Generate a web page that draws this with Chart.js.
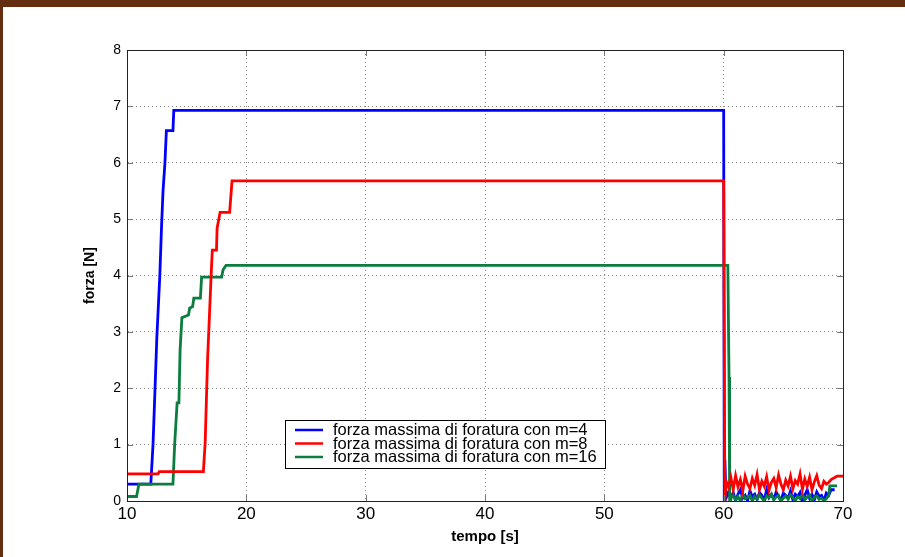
<!DOCTYPE html>
<html lang="it">
<head>
    <meta charset="UTF-8">
    <title>Forza massima di foratura</title>
    <script src="https://cdn.jsdelivr.net/npm/chart.js"></script>
    <style>
        html, body { margin: 0; padding: 0; background: #fff; }
        #wrap { position: relative; width: 905px; height: 557px; overflow: hidden; background: #fff; }
        #forzaChart { position: absolute; left: 0; top: 0; }
        /* brown frame of the slide */
        .bordo-top { position: absolute; left: 0; top: 0; width: 905px; height: 7px; background: #652e11; }
        .bordo-left { position: absolute; left: 0; top: 0; width: 3px; height: 557px; background: #652e11; }
    </style>
</head>
<body>
<div id="wrap">
    <canvas id="forzaChart" width="905" height="557"></canvas>
    <div class="bordo-top"></div>
    <div class="bordo-left"></div>
</div>

<script>
    // series labels
    const etichette = [
        'forza massima di foratura con m=4',
        'forza massima di foratura con m=8',
        'forza massima di foratura con m=16'
    ];

    // rise part of each curve (tempo [s], forza [N])
    const tempoM4 = [10, 11.95, 12.0, 12.18, 12.35, 12.5, 12.75, 12.9, 13.02, 13.18, 13.3, 13.85, 13.92, 60.0, 60.05, 60.1, 60.2, 60.4];
    const forzaM4 = [0.3, 0.3, 0.32, 1.0, 2.0, 2.9, 4.0, 4.9, 5.5, 6.0, 6.57, 6.57, 6.93, 6.93, 0.0, 0.73, 0.05, 0.15];

    const tempoM8 = [10, 12.6, 12.7, 16.4, 16.55, 16.75, 16.85, 17.05, 17.15, 17.5, 17.55, 17.8, 18.6, 18.8, 60.0, 60.1, 60.2, 60.4];
    const forzaM8 = [0.48, 0.48, 0.52, 0.52, 1.03, 2.5, 3.0, 4.0, 4.45, 4.45, 4.84, 5.12, 5.12, 5.68, 5.68, 0.0, 0.35, 0.25];

    const tempoM16 = [10, 10.8, 11.0, 13.85, 14.0, 14.2, 14.35, 14.45, 14.6, 15.15, 15.25, 15.5, 15.6, 16.15, 16.25, 17.93, 18.05, 18.3, 60.35, 60.45, 60.5, 60.55];
    const forzaM16 = [0.08, 0.08, 0.3, 0.3, 1.03, 1.74, 1.74, 2.68, 3.25, 3.3, 3.42, 3.45, 3.6, 3.6, 3.97, 3.97, 4.1, 4.18, 4.18, 2.2, 0.0, 0.1];

    // noisy part after the drop at 60 s
    const tempoRumore = [60.6, 60.8, 61.0, 61.2, 61.4, 61.6, 61.8, 62.0, 62.2, 62.4, 62.6, 62.8, 63.0, 63.2, 63.4, 63.6, 63.8, 64.0, 64.2, 64.4,
        64.6, 64.8, 65.0, 65.2, 65.4, 65.6, 65.8, 66.0, 66.2, 66.4, 66.6, 66.8, 67.0, 67.2, 67.4, 67.6, 67.8, 68.0, 68.2, 68.4, 68.6];
    const rumoreM4 = [0.05, 0.15, 0.0, 0.12, 0.2, 0.05, 0.1, 0.0, 0.18, 0.08, 0.12, 0.02, 0.15, 0.1, 0.0, 0.2, 0.06, 0.12, 0.03, 0.16,
        0.08, 0.0, 0.14, 0.1, 0.05, 0.18, 0.02, 0.12, 0.08, 0.15, 0.0, 0.1, 0.2, 0.05, 0.12, 0.02, 0.16, 0.08, 0.1, 0.0, 0.14];
    const rumoreM8 = [0.42, 0.2, 0.45, 0.25, 0.38, 0.18, 0.44, 0.3, 0.22, 0.4, 0.28, 0.47, 0.2, 0.35, 0.26, 0.43, 0.19, 0.33, 0.4, 0.24,
        0.46, 0.3, 0.2, 0.37, 0.27, 0.44, 0.22, 0.36, 0.3, 0.48, 0.21, 0.39, 0.26, 0.42, 0.2, 0.34, 0.45, 0.28, 0.22, 0.35, 0.3];
    const rumoreM16 = [0.05, 0.1, 0.02, 0.08, 0.0, 0.12, 0.04, 0.06, 0.1, 0.0, 0.08, 0.03, 0.11, 0.05, 0.0, 0.09, 0.06, 0.12, 0.02, 0.07,
        0.1, 0.0, 0.05, 0.09, 0.03, 0.11, 0.06, 0.0, 0.08, 0.04, 0.12, 0.02, 0.07, 0.1, 0.0, 0.06, 0.09, 0.03, 0.05, 0.0, 0.04];

    // end of each record
    const codaTempoM4 = [68.8, 69.0, 69.3];
    const codaForzaM4 = [0.1, 0.2, 0.2];
    const codaTempoM8 = [68.8, 69.0, 69.5, 70];
    const codaForzaM8 = [0.33, 0.38, 0.44, 0.44];
    const codaTempoM16 = [68.8, 68.9, 69.5];
    const codaForzaM16 = [0.1, 0.27, 0.27];

    // axis ticks
    const tickTempo = [10, 20, 30, 40, 50, 60, 70];
    const tickForza = [0, 1, 2, 3, 4, 5, 6, 7, 8];

    const colori = ['#0000ff', '#ff0000', '#0b7d3e'];

    function punti(t, f) {
        return t.map((x, i) => ({ x: x, y: f[i] }));
    }

    const serieM4 = punti(tempoM4, forzaM4).concat(punti(tempoRumore, rumoreM4), punti(codaTempoM4, codaForzaM4));
    const serieM8 = punti(tempoM8, forzaM8).concat(punti(tempoRumore, rumoreM8), punti(codaTempoM8, codaForzaM8));
    const serieM16 = punti(tempoM16, forzaM16).concat(punti(tempoRumore, rumoreM16), punti(codaTempoM16, codaForzaM16));

    // matlab style box with inward ticks
    const cornice = {
        id: 'cornice',
        afterDatasetsDraw(chart) {
            const ctx = chart.ctx;
            const a = chart.chartArea;
            const sx = chart.scales.x, sy = chart.scales.y;
            ctx.save();
            ctx.strokeStyle = '#777';
            ctx.lineWidth = 1;
            ctx.beginPath();
            tickTempo.forEach(v => {
                const px = Math.round(sx.getPixelForValue(v)) + 0.5;
                ctx.moveTo(px, a.bottom); ctx.lineTo(px, a.bottom - 6);
                ctx.moveTo(px, a.top); ctx.lineTo(px, a.top + 6);
            });
            tickForza.forEach(v => {
                const py = Math.round(sy.getPixelForValue(v)) + 0.5;
                ctx.moveTo(a.left, py); ctx.lineTo(a.left + 6, py);
                ctx.moveTo(a.right, py); ctx.lineTo(a.right - 6, py);
            });
            ctx.stroke();
            ctx.strokeStyle = '#222';
            ctx.strokeRect(Math.round(a.left) + 0.5, Math.round(a.top) + 0.5, Math.round(a.right - a.left), Math.round(a.bottom - a.top));
            ctx.restore();
        }
    };

    // legend box inside the plot, like matlab
    const legendaInterna = {
        id: 'legendaInterna',
        afterDraw(chart) {
            const ctx = chart.ctx;
            const x0 = 285, y0 = 420, w = 320, h = 48;
            ctx.save();
            ctx.fillStyle = '#fff';
            ctx.fillRect(x0, y0, w, h);
            ctx.strokeStyle = '#000';
            ctx.lineWidth = 1;
            ctx.strokeRect(x0 + 0.5, y0 + 0.5, w, h);
            ctx.font = '16.5px "Liberation Sans", Arial, sans-serif';
            ctx.textBaseline = 'middle';
            chart.data.datasets.forEach((ds, i) => {
                const y = y0 + 10 + i * 13.5;
                ctx.strokeStyle = ds.borderColor;
                ctx.lineWidth = 2.5;
                ctx.beginPath();
                ctx.moveTo(x0 + 10, y);
                ctx.lineTo(x0 + 38, y);
                ctx.stroke();
                ctx.fillStyle = '#000';
                ctx.fillText(ds.label, x0 + 48, y + 0.5);
            });
            ctx.restore();
        }
    };

    const ctx = document.getElementById('forzaChart').getContext('2d');
    new Chart(ctx, {
        type: 'line',
        data: {
            datasets: [
                { label: etichette[0], data: serieM4, borderColor: colori[0], order: 2 },
                { label: etichette[1], data: serieM8, borderColor: colori[1], order: 0 },
                { label: etichette[2], data: serieM16, borderColor: colori[2], order: 1 }
            ]
        },
        options: {
            responsive: false,
            animation: false,
            parsing: false,
            elements: {
                point: { radius: 0 },
                line: { borderWidth: 2.8, tension: 0, fill: false }
            },
            layout: { padding: { left: 0, right: 62, top: 50, bottom: 0 } },
            plugins: {
                legend: { display: false },
                tooltip: { enabled: false }
            },
            scales: {
                x: {
                    type: 'linear',
                    min: 10,
                    max: 70,
                    afterFit(scale) { scale.height = 56; },
                    afterBuildTicks(scale) { scale.ticks = tickTempo.map(v => ({ value: v })); },
                    ticks: {
                        color: '#000',
                        padding: 3,
                        maxRotation: 0,
                        font: { family: '"Liberation Sans", Arial, sans-serif', size: 17 }
                    },
                    grid: { color: '#8a8a8a', lineWidth: 1, drawTicks: false },
                    border: { display: true, color: '#000', dash: [1, 3] },
                    title: {
                        display: true,
                        text: 'tempo [s]',
                        color: '#000',
                        padding: { top: 0, bottom: 11 },
                        font: { family: '"Liberation Sans", Arial, sans-serif', size: 15, weight: 'bold' }
                    }
                },
                y: {
                    type: 'linear',
                    min: 0,
                    max: 8,
                    afterFit(scale) { scale.width = 127; },
                    afterBuildTicks(scale) { scale.ticks = tickForza.map(v => ({ value: v })); },
                    ticks: {
                        color: '#000',
                        padding: 6,
                        font: { family: '"Liberation Sans", Arial, sans-serif', size: 14 }
                    },
                    grid: { color: '#8a8a8a', lineWidth: 1, drawTicks: false },
                    border: { display: true, color: '#000', dash: [1, 3] },
                    title: {
                        display: true,
                        text: 'forza [N]',
                        color: '#000',
                        padding: { top: 82, bottom: 0 },
                        font: { family: '"Liberation Sans", Arial, sans-serif', size: 14, weight: 'bold' }
                    }
                }
            }
        },
        plugins: [cornice, legendaInterna]
    });
</script>
</body>
</html>
